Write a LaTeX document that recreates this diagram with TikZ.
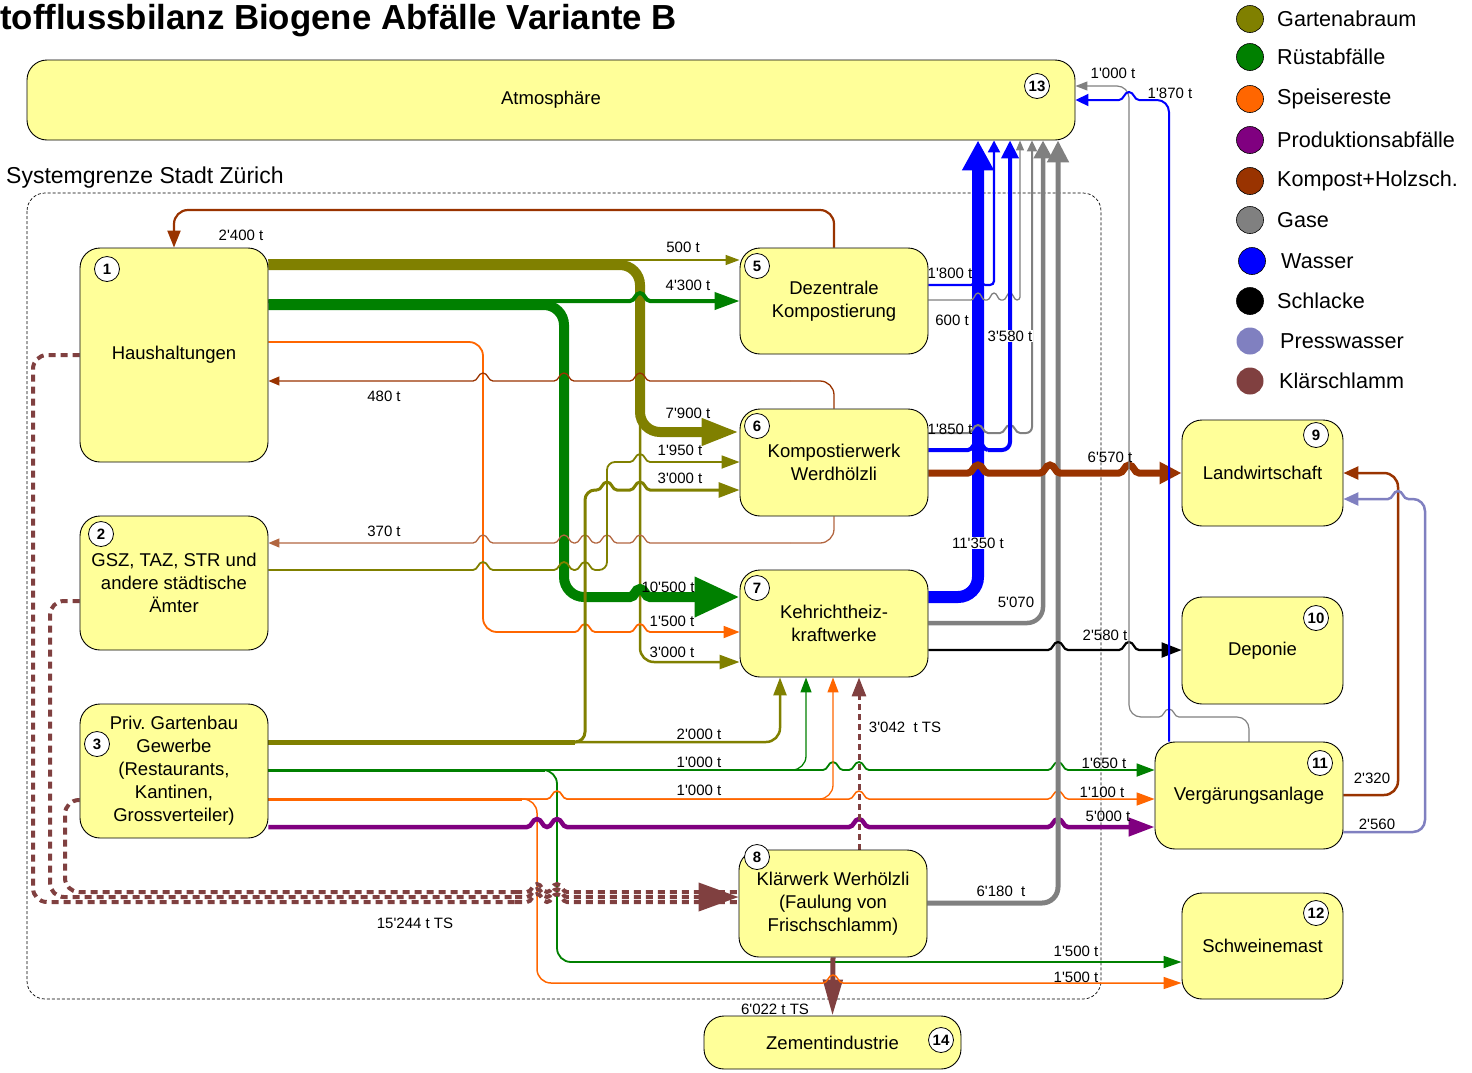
\documentclass[tikz,border=0pt]{standalone}
\usepackage{fontspec}
\setmainfont{Liberation Sans}[Ligatures=TeXOff]
\usetikzlibrary{arrows.meta}
\pgfdeclarelayer{bg}
\pgfsetlayers{bg,main}
\definecolor{boxy}{RGB}{255,255,153}
\definecolor{cOl}{RGB}{128,128,0}
\definecolor{cGr}{RGB}{0,128,0}
\definecolor{cOr}{RGB}{255,102,0}
\definecolor{cPu}{RGB}{128,0,128}
\definecolor{cBr}{RGB}{153,51,0}
\definecolor{cGy}{RGB}{128,128,128}
\definecolor{cBl}{RGB}{0,0,255}
\definecolor{cPw}{RGB}{128,128,192}
\definecolor{cKs}{RGB}{128,64,64}
\tikzset{
 box/.style={draw=black, line width=0.9pt, fill=boxy, rounded corners=20pt, inner sep=0pt, align=center, font=\fontsize{18.5}{23}\selectfont},
 num/.style={circle, draw=black, line width=0.8pt, fill=white, minimum size=25pt, inner sep=0pt, font=\bfseries\fontsize{15}{15}\selectfont},
 lab/.style={font=\fontsize{15}{15}\selectfont, inner sep=1pt},
 legc/.style={circle, draw=black, line width=0.6pt, minimum size=27pt, inner sep=0pt},
 legt/.style={anchor=west, inner sep=0pt, font=\fontsize{21.6}{22}\selectfont},
 fl/.style={rounded corners=14pt},
 ks/.style={cKs, line width=4pt, dash pattern=on 7pt off 5pt},
 hop/.style 2 args={insert path={-- ({#1-10},#2) .. controls ({#1-5},#2) and ({#1-5},{#2-8}) .. (#1,{#2-8}) .. controls ({#1+5},{#2-8}) and ({#1+5},#2) .. ({#1+10},#2)}},
 hopn/.style 2 args={insert path={-- ({#1-7},#2) .. controls ({#1-3.5},#2) and ({#1-3.5},{#2-7}) .. (#1,{#2-7}) .. controls ({#1+3.5},{#2-7}) and ({#1+3.5},#2) .. ({#1+7},#2)}},
 arr/.style 2 args={-{Triangle[length=#1pt,width=#2pt]}},
 sarr/.style 2 args={{Triangle[length=#1pt,width=#2pt]}-},
}
\begin{document}
\begin{tikzpicture}[x=1pt,y=-1pt]
\useasboundingbox (0,0) rectangle (1472,1072);

% title and system boundary label
\node[anchor=base west, inner sep=0pt, font=\bfseries\fontsize{34.8}{35}\selectfont] (title) at (0,29) {tofflussbilanz Biogene Abfälle Variante B};
\node[anchor=base west, inner sep=0pt, font=\fontsize{23}{23}\selectfont] (sg) at (6,183) {Systemgrenze Stadt Zürich};

% boxes
\node[box, minimum width=1048pt, minimum height=80pt] (atm) at (551,100) {Atmosphäre};
\node[box, minimum width=188pt, minimum height=214pt] (hh) at (174,355) {Haushaltungen};
\node[box, minimum width=188pt, minimum height=134pt] (gsz) at (174,583) {GSZ, TAZ, STR und\\andere städtische\\Ämter};
\node[box, minimum width=188pt, minimum height=134pt] (priv) at (174,771) {Priv.\ Gartenbau\\Gewerbe\\(Restaurants,\\Kantinen,\\Grossverteiler)};
\node[box, minimum width=188pt, minimum height=106pt] (dez) at (834,301) {Dezentrale\\Kompostierung};
\node[box, minimum width=188pt, minimum height=107pt] (kw) at (834,462.5) {Kompostierwerk\\Werdhölzli};
\node[box, minimum width=188pt, minimum height=107pt] (khkw) at (834,623.5) {Kehrichtheiz-\\kraftwerke};
\node[box, minimum width=188pt, minimum height=107pt] (klw) at (833,903.5) {Klärwerk Werhölzli\\(Faulung von\\Frischschlamm)};
\node[box, minimum width=161pt, minimum height=106pt] (lw) at (1262.5,473) {Landwirtschaft};
\node[box, minimum width=161pt, minimum height=107pt] (dep) at (1262.5,650.5) {Deponie};
\node[box, minimum width=188pt, minimum height=107pt] (verg) at (1249,795.5) {Vergärungsanlage};
\node[box, minimum width=161pt, minimum height=106pt] (schw) at (1262.5,946) {Schweinemast};
\node[box, minimum width=257pt, minimum height=53pt] (zem) at (832.5,1042.5) {Zementindustrie};

% number circles
\node[num] (n1) at (107,269) {1};
\node[num] (n2) at (101,534) {2};
\node[num] (n3) at (97,744) {3};
\node[num] (n5) at (757,266) {5};
\node[num] (n6) at (757,426) {6};
\node[num] (n7) at (757,588) {7};
\node[num] (n8) at (757,857) {8};
\node[num] (n9) at (1316,435) {9};
\node[num] (n10) at (1316,618) {10};
\node[num] (n11) at (1320,763) {11};
\node[num] (n12) at (1316,913) {12};
\node[num] (n13) at (1037,86) {13};
\node[num] (n14) at (941,1040) {14};

\begin{pgfonlayer}{bg}
% system boundary
\draw[line width=0.7pt, dash pattern=on 3pt off 2pt, rounded corners=18pt] (27,193) rectangle (1101,999);

% ---- Haushaltungen outputs
\draw[cOl, line width=1.5pt, arr={14}{10}] (hh.east |- 0,260) -- (dez.west |- 0,260);
\draw[cOl, line width=2.5pt, fl, arr={20}{14}] (hh.east |- 0,265) -- (640,265) -- (640,662) -- (khkw.west |- 0,662);
\draw[cOl, line width=10pt, rounded corners=20pt, arr={38}{25}] (hh.east |- 0,265) -- (640,265) -- (640,432) -- (kw.west |- 0,432);
\draw[cGr, line width=4pt, arr={25}{17}] (hh.east |- 0,301) [hop={640}{301}] -- (dez.west |- 0,301);
\draw[cGr, line width=10pt, rounded corners=20pt] (hh.east |- 0,305) -- (564,305) -- (564,597) -- (600,597);
\draw[cGr, line width=10pt, arr={45}{38}] (600,597) [hop={640}{597}] -- (khkw.west |- 0,597);
\draw[cOr, line width=1.8pt, fl] (hh.east |- 0,342) -- (483,342) -- (483,632) -- (505,632);
\draw[cOr, line width=1.8pt, arr={16}{12}] (505,632) [hop={585}{632}] [hop={640}{632}] -- (khkw.west |- 0,632);

% ---- Kompost back to Haushaltungen and GSZ
\draw[cBr, line width=2.2pt, fl, arr={17}{13}] (dez.north) -- (dez.north |- 0,210) -- (hh.north |- 0,210) -- (hh.north);
\draw[cBr, line width=1.3pt, sarr={11}{9}] (hh.east |- 0,381) [hop={483}{381}] [hop={564}{381}] [hop={640}{381}] -- (790,381);
\draw[cBr, line width=1.3pt, fl] (790,381) -- (kw.north |- 0,381) -- (kw.north);
\draw[cBr!75, line width=1.3pt, sarr={11}{9}] (gsz.east |- 0,543) [hop={483}{543}] [hop={564}{543}] [hop={585}{543}] [hop={607}{543}] [hop={640}{543}] -- (790,543);
\draw[cBr!75, line width=1.3pt, fl] (790,543) -- (kw.south |- 0,543) -- (kw.south);

% ---- GSZ olive
\draw[cOl, line width=1.8pt] (gsz.east |- 0,570) [hop={483}{570}] [hop={564}{570}] [hop={585}{570}];
\draw[cOl, line width=1.8pt, rounded corners=8pt] (595,570) -- (607,570) -- (607,462) -- (625,462);
\draw[cOl, line width=1.8pt, arr={18}{13}] (625,462) [hop={640}{462}] -- (kw.west |- 0,462);

% ---- Priv. Gartenbau outputs
\draw[cOl, line width=3pt, rounded corners=10pt] (priv.east |- 0,742) -- (585,742) -- (585,490) -- (597,490);
\draw[cOl, line width=3pt, arr={21}{15}] (597,490) [hop={607}{490}] [hop={640}{490}] -- (kw.west |- 0,490);
\draw[cOl, line width=2.5pt, fl, arr={18}{13}] (priv.east |- 0,742) -- (780,742) -- (khkw.south -| 780,0);
\draw[cOl, line width=5pt] (priv.east |- 0,742) -- (575,742);

\draw[cGr, line width=1.3pt, fl, arr={15}{11}] (priv.east |- 0,770) -- (806,770) -- (khkw.south -| 806,0);
\draw[cGr, line width=1.8pt, arr={18}{13}] (priv.east |- 0,770) [hop={833}{770}] [hop={859}{770}] [hop={1058}{770}] -- (verg.west |- 0,770);
\draw[cGr, line width=1.8pt, fl, arr={18}{12}] (priv.east |- 0,770) -- (557,770) -- (557,962) -- (schw.west |- 0,962);
\draw[cGr, line width=3pt] (priv.east |- 0,770) -- (545,770);

\draw[cKs, line width=5pt, arr={36}{19}] (klw.south) -- (zem.north);

\draw[cOr, line width=1.3pt] (priv.east |- 0,799) [hop={557}{799}];
\draw[cOr, line width=1.3pt, fl, arr={15}{11}] (567,799) -- (833,799) -- (khkw.south -| 833,0);
\draw[cOr, line width=1.5pt, arr={18}{13}] (priv.east |- 0,799) [hop={557}{799}] [hop={859}{799}] [hop={1058}{799}] -- (verg.west |- 0,799);
\draw[cOr, line width=1.5pt, fl] (priv.east |- 0,799) -- (537,799) -- (537,983) -- (560,983);
\draw[cOr, line width=1.5pt, arr={18}{12}] (560,983) [hop={833}{983}] -- (schw.west |- 0,983);
\draw[cOr, line width=3pt] (priv.east |- 0,799) -- (522,799);

\draw[cPu, line width=4.5pt, arr={26}{18}] (priv.east |- 0,827) [hop={537}{827}] [hop={557}{827}] [hop={859}{827}] [hop={1058}{827}] -- (verg.west |- 0,827);

% ---- Klaerschlamm
\draw[ks, fl] (hh.west |- 0,355) -- (33,355) -- (33,902) -- (515,902);
\draw[ks] (515,902) [hop={537}{902}] [hop={557}{902}] -- (klw.west |- 0,902);
\draw[ks, fl] (priv.west |- 0,800) -- (65,800) -- (65,892) -- (515,892);
\draw[ks] (515,892) [hop={537}{892}] [hop={557}{892}] -- (klw.west |- 0,892);
\draw[ks, fl] (gsz.west |- 0,601) -- (50,601) -- (50,897) -- (515,897);
\draw[ks, arr={40}{28}] (515,897) [hop={537}{897}] [hop={557}{897}] -- (klw.west |- 0,897);
\draw[cKs, line width=3pt, dash pattern=on 6pt off 4pt, arr={19}{14}] (klw.north -| 859,0) -- (khkw.south -| 859,0);

% ---- to atmosphere
\draw[cBl, line width=12pt, rounded corners=20pt, arr={30}{30}] (khkw.east |- 0,597) -- (978,597) -- (atm.south -| 978,0);
\draw[cGy, line width=4.5pt, rounded corners=16pt, arr={18}{18}] (khkw.east |- 0,623) -- (1043,623) -- (atm.south -| 1043,0);
\draw[cGy, line width=5pt, rounded corners=16pt, arr={22}{21}] (klw.east |- 0,903) -- (1058,903) -- (atm.south -| 1058,0);
\draw[cBl, line width=2.2pt] (dez.east |- 0,285) [hopn={978}{285}];
\draw[cBl, line width=2.2pt, rounded corners=4pt, arr={12}{12}] (985,285) -- (994,285) -- (atm.south -| 994,0);
\draw[cGy, line width=1.3pt] (dez.east |- 0,300) [hopn={978}{300}] [hopn={994}{300}] [hopn={1010}{300}];
\draw[cGy, line width=1.3pt, rounded corners=3pt, arr={10}{8}] (1017,300) -- (1020,300) -- (atm.south -| 1020,0);
\draw[cGy, line width=2pt] (kw.east |- 0,433) [hop={978}{433}] [hop={1010}{433}];
\draw[cGy, line width=2pt, rounded corners=6pt, arr={11}{10}] (1020,433) -- (1032,433) -- (atm.south -| 1032,0);
\draw[cBl, line width=4pt] (kw.east |- 0,450) [hop={978}{450}];
\draw[cBl, line width=4pt, rounded corners=8pt, arr={18}{17}] (988,450) -- (1010,450) -- (atm.south -| 1010,0);

% ---- to Landwirtschaft / Deponie
\draw[cBr, line width=7pt, arr={22}{21}] (kw.east |- 0,473) [hop={978}{473}] [hop={1050}{473}] [hop={1129}{473}] -- (lw.west |- 0,473);
\draw[black, line width=2.2pt, arr={20}{15}] (khkw.east |- 0,650) [hop={1058}{650}] [hop={1129}{650}] -- (dep.west |- 0,650);

% ---- Vergaerungsanlage outputs
\draw[cGy, line width=1.2pt, rounded corners=12pt, sarr={12}{9}] (atm.east |- 0,86) -- (1129,86) -- (1129,717) -- (1150,717);
\draw[cGy, line width=1.2pt] (1150,717) [hop={1169}{717}];
\draw[cGy, line width=1.2pt, rounded corners=12pt] (1179,717) -- (verg.north |- 0,717) -- (verg.north);
\draw[cBl, line width=2pt, sarr={13}{12}] (atm.east |- 0,100) [hop={1129}{100}];
\draw[cBl, line width=2pt, rounded corners=12pt] (1139,100) -- (1169,100) -- (verg.north -| 1169,0);
\draw[cBr, line width=2.5pt, fl, sarr={15}{13}] (lw.east |- 0,473) -- (1398,473) -- (1398,795) -- (verg.east |- 0,795);
\draw[cPw, line width=2.5pt, sarr={15}{13}] (lw.east |- 0,499) [hop={1398}{499}];
\draw[cPw, line width=2.5pt, rounded corners=12pt] (1408,499) -- (1425,499) -- (1425,832) -- (verg.east |- 0,832);
\end{pgfonlayer}

% ---- flow labels
\node[lab] (l2400) at (241,235) {2'400 t};
\node[lab] (l500) at (683,247) {500 t};
\node[lab] (l4300) at (688,285) {4'300 t};
\node[lab] (l480) at (384,396) {480 t};
\node[lab] (l7900) at (688,413) {7'900 t};
\node[lab] (l1950) at (680,450) {1'950 t};
\node[lab] (l3000a) at (680,478) {3'000 t};
\node[lab] (l370) at (384,531) {370 t};
\node[lab] (l10500) at (668,587) {10'500 t};
\node[lab] (l1500a) at (672,621) {1'500 t};
\node[lab] (l3000b) at (672,652) {3'000 t};
\node[lab] (l2000) at (699,734) {2'000 t};
\node[lab] (l1000a) at (699,762) {1'000 t};
\node[lab] (l1000b) at (699,790) {1'000 t};
\node[lab] (l3042) at (905,727) {3'042~~t TS};
\node[lab] (l15244) at (415,923) {15'244 t TS};
\node[lab] (l6180) at (1001,891) {6'180~~t};
\node[lab] (l1500b) at (1076,951) {1'500 t};
\node[lab] (l1500c) at (1076,977) {1'500 t};
\node[lab] (l6022) at (775,1009) {6'022 t TS};
\node[lab] (l1800) at (950,273) {1'800 t};
\node[lab] (l600) at (952,320) {600 t};
\node[lab, fill=white] (l3580) at (1010,336) {3'580 t};
\node[lab] (l1850) at (950,429) {1'850 t};
\node[lab] (l6570) at (1110,457) {6'570 t};
\node[lab, fill=white] (l11350) at (978,543) {11'350 t};
\node[lab] (l5070) at (1016,602) {5'070};
\node[lab] (l2580) at (1105,635) {2'580 t};
\node[lab] (l1650) at (1104,763) {1'650 t};
\node[lab] (l1100) at (1102,792) {1'100 t};
\node[lab] (l5000) at (1108,816) {5'000 t};
\node[lab] (l2320) at (1372,778) {2'320};
\node[lab] (l2560) at (1377,824) {2'560};
\node[lab] (l1000c) at (1113,73) {1'000 t};
\node[lab] (l1870) at (1170,93) {1'870 t};

% ---- legend
\node[legc, fill=cOl] (g1) at (1250,19) {};
\node[legt] (t1) at (1277,19) {Gartenabraum};
\node[legc, fill=cGr] (g2) at (1250,57) {};
\node[legt] (t2) at (1277,57) {Rüstabfälle};
\node[legc, fill=cOr] (g3) at (1250,99) {};
\node[legt] (t3) at (1277,99) {Speisereste};
\node[legc, fill=cPu] (g4) at (1250,140) {};
\node[legt] (t4) at (1277,140) {Produktionsabfälle};
\node[legc, fill=cBr] (g5) at (1250,181) {};
\node[legt] (t5) at (1277,181) {Kompost+Holzsch.};
\node[legc, fill=cGy] (g6) at (1250,220) {};
\node[legt] (t6) at (1277,220) {Gase};
\node[legc, fill=cBl] (g7) at (1252,261) {};
\node[legt] (t7) at (1281,261) {Wasser};
\node[legc, fill=black] (g8) at (1250,301) {};
\node[legt] (t8) at (1277,301) {Schlacke};
\node[legc, draw=none, fill=cPw] (g9) at (1250,341) {};
\node[legt] (t9) at (1280,341) {Presswasser};
\node[legc, draw=none, fill=cKs] (g10) at (1250,381) {};
\node[legt] (t10) at (1279,381) {Klärschlamm};
\end{tikzpicture}
\end{document}
